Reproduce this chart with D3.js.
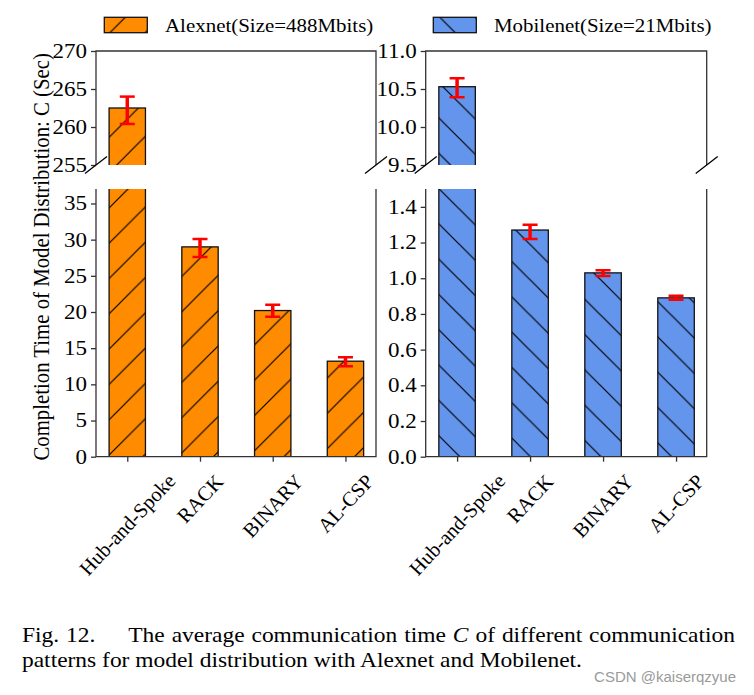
<!DOCTYPE html>
<html><head><meta charset="utf-8">
<script src="https://cdn.jsdelivr.net/npm/d3@7"></script>
<style>body{margin:0;background:#fff}</style>
</head><body>
<script>
// ---------- data ----------
const categories = ["Hub-and-Spoke", "RACK", "BINARY", "AL-CSP"];
const seriesNames = ["Alexnet(Size=488Mbits)", "Mobilenet(Size=21Mbits)"];
const alexnetMean = [262.5, 29.0, 20.2, 13.2];
const alexnetLow  = [260.4, 27.6, 19.35, 12.5];
const alexnetHigh = [264.0, 30.1, 21.0, 13.75];
const mobilenetMean = [10.53, 1.27, 1.03, 0.89];
const mobilenetLow  = [10.39, 1.22, 1.013, 0.88];
const mobilenetHigh = [10.64, 1.30, 1.045, 0.902];
const alexTopTicks = [255, 260, 265, 270];
const alexBottomTicks = [0, 5, 10, 15, 20, 25, 30, 35];
const mobileTopTicks = [9.5, 10.0, 10.5, 11.0];
const mobileBottomTicks = [0, 0.2, 0.4, 0.6, 0.8, 1.0, 1.2, 1.4];
const alexTopDomain = [255, 270], alexBottomDomain = [0, 37];
const mobileTopDomain = [9.5, 11.0], mobileBottomDomain = [0, 1.5];
const yLabel = "Completion Time of Model Distribution: C (Sec)";
const captionWords1 = ["Fig.", "12.", "The", "average", "communication", "time", "C", "of", "different", "communication"];
const captionLine2 = "patterns for model distribution with Alexnet and Mobilenet.";
const watermark = "CSDN @kaiserqzyue";

// ---------- layout ----------
const W = 754, H = 695;
const SERIF = "'Liberation Serif','Times New Roman',serif";
const SX = 1.15; // horizontal glyph stretch seen in the reference
const TOP = {y0: 51, y1: 165}, BOT = {y0: 189, y1: 456.7};
const P = 35.3;

const svg = d3.select("body").append("svg").attr("width", W).attr("height", H)
  .style("font-family", SERIF);
const defs = svg.append("defs");

function stretchText(sel, x, y) {
  return sel.attr("x", x / SX).attr("y", y).attr("transform", `scale(${SX},1)`);
}

function hatch(id, dir, ox, oy) {
  const pat = defs.append("pattern").attr("id", id).attr("patternUnits", "userSpaceOnUse")
    .attr("width", P).attr("height", P).attr("x", ox).attr("y", oy);
  const q = P / 4;
  const d = dir === "/" ?
    `M0,${P}L${P},0M${-q},${q}L${q},${-q}M${P - q},${P + q}L${P + q},${P - q}` :
    `M0,0L${P},${P}M${-q},${P - q}L${q},${P + q}M${P - q},${-q}L${P + q},${q}`;
  pat.append("path").attr("d", d).attr("stroke", "#000").attr("stroke-width", 1.2).attr("fill", "none");
}
hatch("hSlash", "/", -0.7, 0);
hatch("hBack", "\\", 0, -3.2);
hatch("hSlashLeg", "/", 1.4, 0);
hatch("hBackLeg", "\\", 0, 1.0);

const panels = [
  {x0: 96, x1: 376, mean: alexnetMean, low: alexnetLow, high: alexnetHigh,
   top: alexTopDomain, topTicks: alexTopTicks, bot: alexBottomDomain, botTicks: alexBottomTicks,
   fmt: d3.format("d"), fill: "#ff8c00", pat: "hSlash"},
  {x0: 425.7, x1: 706.7, mean: mobilenetMean, low: mobilenetLow, high: mobilenetHigh,
   top: mobileTopDomain, topTicks: mobileTopTicks, bot: mobileBottomDomain, botTicks: mobileBottomTicks,
   fmt: d3.format(".1f"), fill: "#6495ed", pat: "hBack"}
];

const SPINE = "#333";
panels.forEach((p, pi) => {
  const x = d3.scaleLinear().domain([-0.43, 3.42]).range([p.x0, p.x1]);
  const subs = [
    {y: d3.scaleLinear().domain(p.top).range([TOP.y1, TOP.y0]), box: TOP, ticks: p.topTicks, isTop: true},
    {y: d3.scaleLinear().domain(p.bot).range([BOT.y1, BOT.y0]), box: BOT, ticks: p.botTicks, isTop: false}
  ];
  subs.forEach((s, si) => {
    const cid = `clip${pi}_${si}`;
    defs.append("clipPath").attr("id", cid).append("rect")
      .attr("x", p.x0 - 1).attr("y", s.box.y0).attr("width", p.x1 - p.x0 + 2).attr("height", s.box.y1 - s.box.y0);
    const g = svg.append("g").attr("clip-path", `url(#${cid})`);
    const bw = x(0.25) - x(0);
    const rectAttrs = sel => sel
      .attr("x", (d, i) => x(i) - bw).attr("width", 2 * bw)
      .attr("y", d => s.y(d)).attr("height", d => s.y(0) - s.y(d));
    g.selectAll("rect.f").data(p.mean).join("rect").attr("class", "f").call(rectAttrs).attr("fill", p.fill);
    g.selectAll("rect.h").data(p.mean).join("rect").attr("class", "h").call(rectAttrs).attr("fill", `url(#${p.pat})`);
    g.selectAll("rect.s").data(p.mean).join("rect").attr("class", "s").call(rectAttrs)
      .attr("fill", "none").attr("stroke", "#111").attr("stroke-width", 1.3);
    // error bars
    const eb = g.selectAll("g.e").data(p.mean).join("g").attr("class", "e");
    eb.append("line").attr("x1", (d, i) => x(i)).attr("x2", (d, i) => x(i))
      .attr("y1", (d, i) => s.y(p.low[i])).attr("y2", (d, i) => s.y(p.high[i]))
      .attr("stroke", "#ff0000").attr("stroke-width", 3.5);
    ["low", "high"].forEach(k => {
      eb.append("line").attr("x1", (d, i) => x(i) - 7.5).attr("x2", (d, i) => x(i) + 7.5)
        .attr("y1", (d, i) => s.y(p[k][i])).attr("y2", (d, i) => s.y(p[k][i]))
        .attr("stroke", "#ff0000").attr("stroke-width", 2.5);
    });
    // spines
    const sp = s.isTop ?
      `M${p.x0},${TOP.y1}V${TOP.y0}H${p.x1}V${TOP.y1}` :
      `M${p.x0},${BOT.y0}V${BOT.y1}H${p.x1}V${BOT.y0}`;
    svg.append("path").attr("d", sp).attr("fill", "none").attr("stroke", SPINE).attr("stroke-width", 1.3);
    // y axis
    const ya = svg.append("g").attr("transform", `translate(${p.x0},0)`)
      .call(d3.axisLeft(s.y).tickValues(s.ticks).tickFormat(p.fmt).tickSize(5).tickPadding(4));
    ya.select(".domain").remove();
    ya.selectAll("line").attr("stroke", SPINE).attr("stroke-width", 1.3);
    ya.selectAll("text").attr("font-family", SERIF).attr("font-size", 20).attr("fill", "#000")
      .attr("x", -9 / SX).attr("transform", `scale(${SX},1)`);
    if (!s.isTop) {
      const xa = svg.append("g").attr("transform", `translate(0,${BOT.y1})`)
        .call(d3.axisBottom(x).tickValues(d3.range(categories.length)).tickFormat("").tickSize(5));
      xa.select(".domain").remove();
      xa.selectAll("line").attr("stroke", SPINE).attr("stroke-width", 1.3);
      const fs = 20.5;
      categories.forEach((c, i) => {
        const t = svg.append("text").text(c).attr("font-size", fs)
          .attr("text-anchor", "middle").attr("dominant-baseline", "central");
        const w = t.node().getComputedTextLength();
        const half = (w + fs * 0.9) / (2 * Math.SQRT2);
        t.attr("transform", `translate(${x(i)},${472 + half}) rotate(-47)`);
      });
    }
  });
  // break marks
  [p.x0, p.x1].forEach(cx => {
    svg.append("line").attr("x1", cx - 11).attr("y1", TOP.y1 + 8.5).attr("x2", cx + 11).attr("y2", TOP.y1 - 8.5)
      .attr("stroke", "#000").attr("stroke-width", 1.3);
  });
});

// y label
svg.append("text").text(yLabel).attr("font-size", 20.8).attr("text-anchor", "middle")
  .attr("dominant-baseline", "central")
  .attr("transform", `translate(42,${(TOP.y0 + BOT.y1) / 2 + 3}) scale(1.08,1) rotate(-90)`);

// legend
const legend = [
  {x: 104.3, tx: 165, fill: "#ff8c00", pat: "hSlashLeg"},
  {x: 433.3, tx: 494, fill: "#6495ed", pat: "hBackLeg"}
];
legend.forEach((l, i) => {
  ["fill", "pat"].forEach(k => svg.append("rect").attr("x", l.x).attr("y", 17.3).attr("width", 43).attr("height", 15.4)
    .attr("fill", k === "fill" ? l.fill : `url(#${l.pat})`));
  svg.append("rect").attr("x", l.x).attr("y", 17.3).attr("width", 43).attr("height", 15.4)
    .attr("fill", "none").attr("stroke", "#111").attr("stroke-width", 1.3);
  svg.append("text").text(seriesNames[i]).attr("font-size", 18.2).call(stretchText, l.tx, 32.3);
});

// caption
const CFS = 20.4, CX0 = 22, CX1 = 735;
const cap = svg.append("g").attr("font-size", CFS);
const widths = captionWords1.map(wd => {
  const t = cap.append("text").text(wd).attr("font-style", wd === "C" ? "italic" : null);
  const w = t.node().getComputedTextLength() * SX; t.remove(); return w;
});
const extra = 26;
const gaps = captionWords1.length - 1;
const gap = (CX1 - CX0 - d3.sum(widths) - extra) / gaps;
let cx = CX0;
captionWords1.forEach((wd, i) => {
  cap.append("text").text(wd).attr("font-style", wd === "C" ? "italic" : null).call(stretchText, cx, 642);
  cx += widths[i] + gap + (i === 1 ? extra : 0);
});
cap.append("text").text(captionLine2).call(stretchText, CX0, 667);

// watermark
svg.append("text").text(watermark).attr("x", 736).attr("y", 682).attr("text-anchor", "end")
  .attr("font-family", "'Liberation Sans',Arial,sans-serif").attr("font-size", 15).attr("fill", "#9a9a9a");
</script>
</body></html>
